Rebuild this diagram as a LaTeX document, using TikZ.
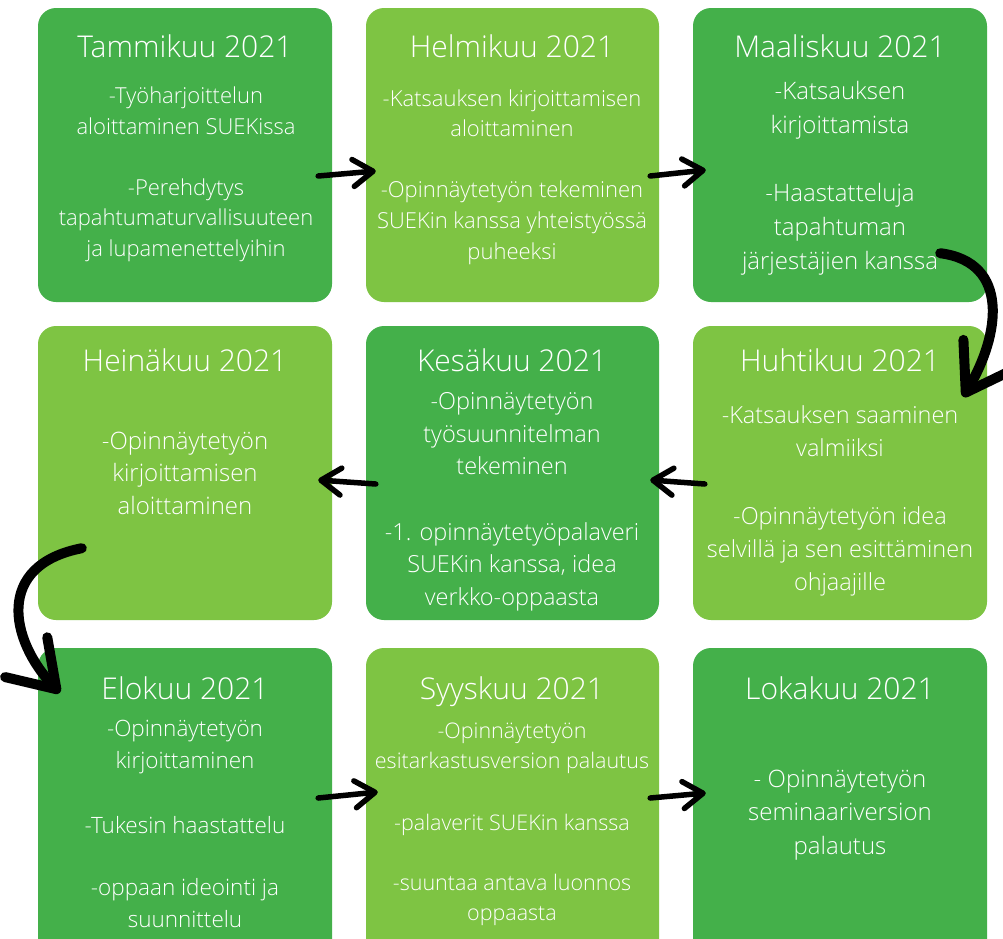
\documentclass[tikz,border=0pt]{standalone}
\usepackage{fontspec}
\IfFontExistsTF{Open Sans Light}{\setmainfont{Open Sans Light}}{\setmainfont{Open Sans}}
\usetikzlibrary{arrows.meta}
\definecolor{dkgreen}{RGB}{68,176,74}
\definecolor{ltgreen}{RGB}{126,196,67}
\tikzset{
 box/.style={rounded corners=18pt, minimum width=294pt, minimum height=294pt, inner sep=0pt, draw=none},
 dk/.style={box, fill=dkgreen},
 lt/.style={box, fill=ltgreen},
 ttl/.style={text=white, font=\fontsize{30}{34}\selectfont, anchor=base, inner sep=0pt},
 bdy/.style={text=white, align=center, anchor=base, inner sep=0pt},
 flow/.style={line width=5.5pt, line cap=round, -{Straight Barb[length=20pt,width=27pt,round]}},
 curvedflow/.style={line width=10pt, line cap=round, -{Straight Barb[length=44pt,width=58pt,round]}},
}
\begin{document}
\begin{tikzpicture}[x=1pt,y=-1pt]
\clip (0,0) rectangle (1003,938);
\fill[white] (0,0) rectangle (1003,938);
% boxes
\node[dk] (b1) at (185,155) {};
\node[lt, minimum width=293pt] (b2) at (512.5,155) {};
\node[dk] (b3) at (840,155) {};
\node[lt] (b4) at (185,473) {};
\node[dk, minimum width=293pt] (b5) at (512.5,473) {};
\node[lt] (b6) at (840,473) {};
\node[dk, minimum height=310pt] (b7) at (185,803) {};
\node[lt, minimum width=293pt, minimum height=310pt] (b8) at (512.5,803) {};
\node[dk, minimum height=310pt] (b9) at (840,803) {};
% titles
\node[ttl] (t1) at (185,57) {Tammikuu 2021};
\node[ttl] (t2) at (512,57) {Helmikuu 2021};
\node[ttl] (t3) at (840,57) {Maaliskuu 2021};
\node[ttl] (t4) at (185,371) {Heinäkuu 2021};
\node[ttl] (t5) at (512,371) {Kesäkuu 2021};
\node[ttl] (t6) at (840,371) {Huhtikuu 2021};
\node[ttl] (t7) at (185,699) {Elokuu 2021};
\node[ttl] (t8) at (512,699) {Syyskuu 2021};
\node[ttl] (t9) at (840,699) {Lokakuu 2021};
% bodies (anchored at the baseline of the last line)
\node[bdy, font=\fontsize{22}{30.5}\selectfont] (d1) at (186,256)
 {-Työharjoittelun\\aloittaminen SUEKissa\\[30.5pt]-Perehdytys\\tapahtumaturvallisuuteen\\ja lupamenettelyihin};
\node[bdy, font=\fontsize{22}{30.6}\selectfont] (d2) at (512,259)
 {-Katsauksen kirjoittamisen\\aloittaminen\\[30.6pt]-Opinnäytetyön tekeminen\\SUEKin kanssa yhteistyössä\\puheeksi};
\node[bdy, font=\fontsize{24}{34}\selectfont] (d3) at (840,269)
 {-Katsauksen\\kirjoittamista\\[34pt]-Haastatteluja\\tapahtuman\\järjestäjien kanssa};
\node[bdy, font=\fontsize{24}{32.5}\selectfont] (d4) at (185,514)
 {-Opinnäytetyön\\kirjoittamisen\\aloittaminen};
\node[bdy, font=\fontsize{23.5}{32.5}\selectfont] (d5) at (512,605)
 {-Opinnäytetyön\\työsuunnitelman\\tekeminen\\[33pt]-1. opinnäytetyöpalaveri\\SUEKin kanssa, idea\\verkko-oppaasta};
\node[bdy, font=\fontsize{23.5}{33}\selectfont] (d6) at (840,590)
 {-Katsauksen saaminen\\valmiiksi\\[35pt]-Opinnäytetyön idea\\selvillä ja sen esittäminen\\ohjaajille};
\node[bdy, font=\fontsize{22.5}{32}\selectfont] (d7) at (185,927)
 {-Opinnäytetyön\\kirjoittaminen\\[33pt]-Tukesin haastattelu\\[30pt]-oppaan ideointi ja\\suunnittelu};
\node[bdy, font=\fontsize{21.5}{30}\selectfont] (d8) at (512,920)
 {-Opinnäytetyön\\esitarkastusversion palautus\\[32pt]-palaverit SUEKin kanssa\\[30pt]-suuntaa antava luonnos\\oppaasta};
\node[bdy, font=\fontsize{24}{33.5}\selectfont] (d9) at (840,854)
 {- Opinnäytetyön\\seminaariversion\\palautus};
% straight arrows
\draw[flow] ([shift={(-14,21)}]b1.east) -- ([shift={(10,16)}]b2.west);
\draw[flow] ([shift={(-9,21)}]b2.east) -- ([shift={(13,15)}]b3.west);
\draw[flow] ([shift={(12,11)}]b6.west) -- ([shift={(-9,7)}]b5.east);
\draw[flow] ([shift={(10,11)}]b5.west) -- ([shift={(-14,7)}]b4.east);
\draw[flow] ([shift={(-14,-5)}]b7.east) -- ([shift={(12,-11)}]b8.west);
\draw[flow] ([shift={(-9,-5)}]b8.east) -- ([shift={(13,-10)}]b9.west);
% curved arrows
\draw[curvedflow] ([shift={(-47,-49)}]b3.south east) .. controls +(70,9) and +(37,-62) .. ([shift={(-24,71)}]b6.north east);
\draw[curvedflow] ([shift={(44,-72)}]b4.south west) .. controls +(-87,17) and +(-50,-53) .. ([shift={(22,45)}]b7.north west);
\end{tikzpicture}
\end{document}
